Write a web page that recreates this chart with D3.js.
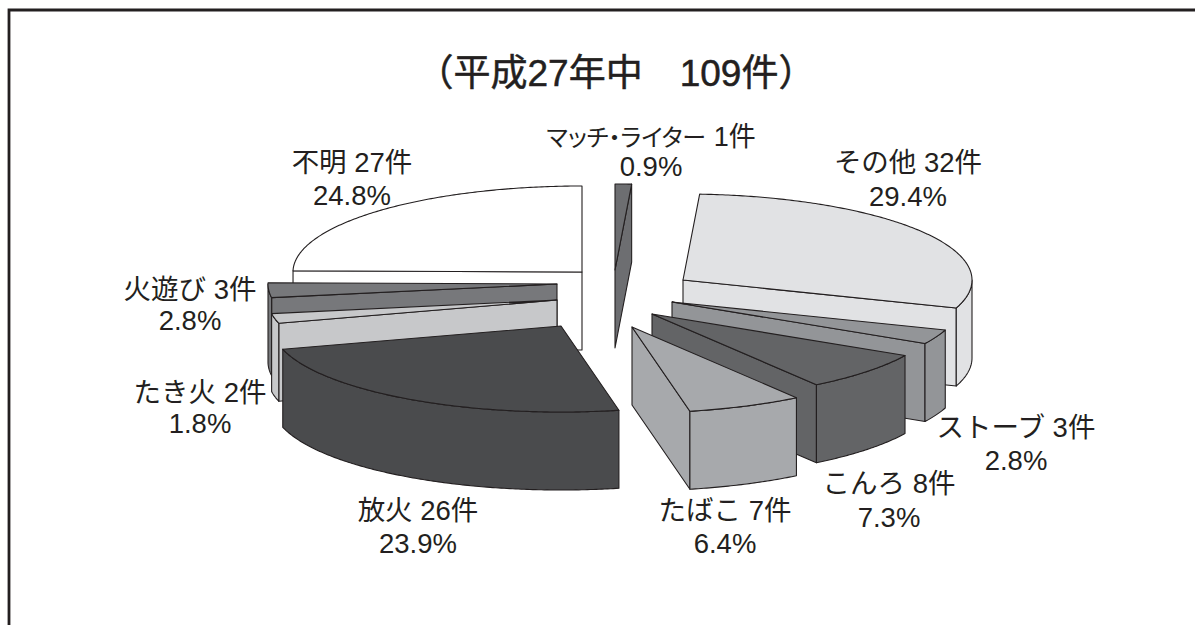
<!DOCTYPE html>
<html lang="ja">
<head>
<meta charset="utf-8">
<script src="https://cdn.jsdelivr.net/npm/d3@7"></script>
<style>
html,body{margin:0;padding:0;background:#fff;overflow:hidden}
svg{display:block}
text{font-family:"Liberation Sans","Noto Sans CJK JP",sans-serif;fill:#231f20}
.palt{font-feature-settings:"palt" 1}
</style>
</head>
<body>
<svg id="chart" width="1195" height="625"></svg>
<script>
// --- data ---
const titleText = "（平成27年中　109件）";
const categories = ["マッチ・ライター","その他","ストーブ","こんろ","たばこ","放火","たき火","火遊び","不明"];
const counts = [1,32,3,8,7,26,2,3,27];
const percents = ["0.9%","29.4%","2.8%","7.3%","6.4%","23.9%","1.8%","2.8%","24.8%"];

// --- layout and style, kept apart from the data ---
const W = 1195, H = 625;
const INK = "#231f20";
const fills = ["#6d6e71","#e1e2e4","#939598","#636466","#a7a9ac","#4a4b4d","#c7c8ca","#77787b","#ffffff"];
const centre = {x:613, y:285};
const rx = 289, ry = 86, depth = 78;
const shiftX = [2,70,59,39,19,-52,-56,-56,-31];
const shiftY = [-15,-5,17,29,42,41,15,-1,-13];
const paintOrder = [8,0,1,2,3,7,6,5,4];
const labelX = [651,908,1016,889,725,418,200,190,352];
const labelY = [146,172,437,493,520,520,402,299,172];
const lineGap = [30,34,33,34,33,33,31,31,33];
const labelSize = 27.5;
const smallKanaSize = 24;
const countSize = 27;

const svg = d3.select("#chart");
const TAU = 2*Math.PI;

// frame
svg.append("path")
  .attr("d","M9 "+H+"V10H"+W)
  .attr("fill","none").attr("stroke",INK).attr("stroke-width",2.8);

// angles from the library's pie layout, clockwise from 12 o'clock
const arcs = d3.pie().sort(null).startAngle(0).endAngle(TAU)(counts);
const xUnit = d3.scaleLinear().domain([-1,1]).range([-rx,rx]);
const yUnit = d3.scaleLinear().domain([-1,1]).range([-ry,ry]);
const pt = (i,a,r=1,z=0)=>[
  centre.x+shiftX[i]+xUnit(Math.sin(a)*r),
  centre.y+shiftY[i]+yUnit(-Math.cos(a)*r)+z
];
const line = d3.line();
const samples = (a,b)=>{
  const n = Math.max(2,Math.ceil((b-a)/0.01));
  return d3.range(n+1).map(k=>a+(b-a)*k/n);
};

const pies = svg.append("g").attr("stroke",INK).attr("stroke-width",1.1).attr("stroke-linejoin","round");
paintOrder.forEach(i=>{
  const s = arcs[i], a = s.startAngle, b = s.endAngle;
  const g = pies.append("g").attr("fill",fills[i]);
  const apex = pt(i,0,0), apexLow = pt(i,0,0,depth);

  // radial side faces that look towards the viewer
  if(Math.sin(a) < -1e-6) g.append("path").attr("d",line([apex,pt(i,a),pt(i,a,1,depth),apexLow])+"Z");
  if(Math.sin(b) > 1e-6) g.append("path").attr("d",line([apex,pt(i,b),pt(i,b,1,depth),apexLow])+"Z");

  // outer wall, only its front half
  const wa = Math.max(a,Math.PI/2), wb = Math.min(b,3*Math.PI/2);
  if(wb>wa){
    const as = samples(wa,wb);
    g.append("path").attr("d",line(as.map(t=>pt(i,t)).concat(as.slice().reverse().map(t=>pt(i,t,1,depth))))+"Z");
  }

  // top face
  g.append("path").attr("d",line([apex].concat(samples(a,b).map(t=>pt(i,t))))+"Z");
});

// title
svg.append("text").attr("x",616).attr("y",86).attr("text-anchor","middle")
  .attr("font-size",37).attr("font-weight",400)
  .attr("stroke",INK).attr("stroke-width",0.5).text(titleText);

// labels
const labels = svg.append("g").attr("text-anchor","middle").attr("font-size",labelSize);
categories.forEach((c,i)=>{
  const t = labels.append("text").attr("x",labelX[i]).attr("y",labelY[i]);
  const first = t.append("tspan").attr("x",labelX[i]);
  if(c.includes("・")){
    first.append("tspan").attr("class","palt").attr("font-size",smallKanaSize).text(c);
    first.append("tspan").attr("font-size",countSize).text(" "+counts[i]+"件");
  } else {
    first.text(c+" "+counts[i]+"件");
  }
  t.append("tspan").attr("x",labelX[i]).attr("dy",lineGap[i]).text(percents[i]);
});
</script>
</body>
</html>
